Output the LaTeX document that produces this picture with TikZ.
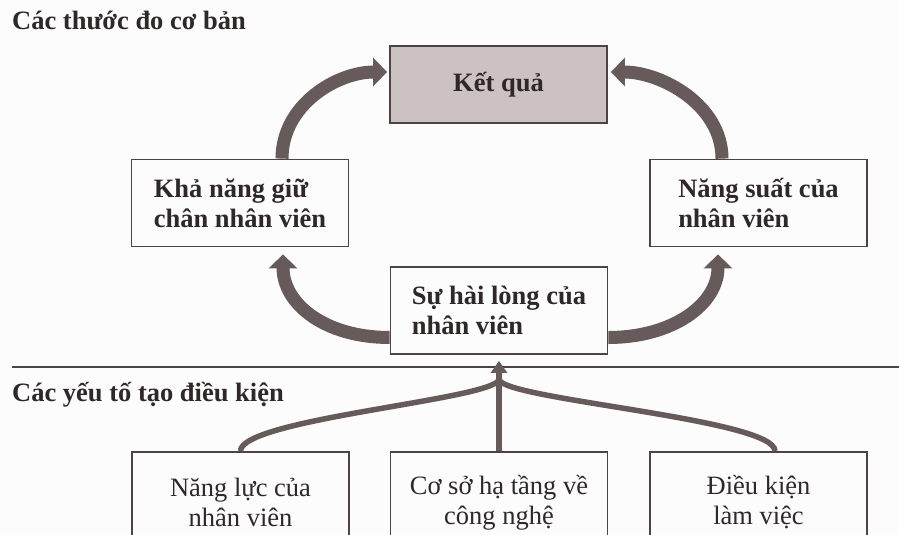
\documentclass[tikz,border=0pt]{standalone}
\usepackage{fontspec}
\setmainfont{Liberation Serif}
\usetikzlibrary{arrows.meta,calc}
\definecolor{arrowc}{HTML}{665B5A}
\definecolor{borderc}{HTML}{4A4444}
\definecolor{resfill}{HTML}{CBC2C1}
\definecolor{bgc}{HTML}{FCFCFD}
\definecolor{textc}{HTML}{2E2828}
\tikzset{
  box/.style={draw=borderc, line width=1.8pt, rectangle, minimum width=#1, inner sep=0pt, text=textc, font=\fontsize{26.5}{30}\selectfont},
  topbox/.style={box=217pt, minimum height=87pt, align=left, font=\fontsize{26.5}{30}\selectfont\bfseries},
  botbox/.style={box=217pt, minimum height=101pt, align=center},
  bigarrow/.style={draw=arrowc, line width=13pt, -{Triangle[width=28pt,length=14pt]}},
  tree/.style={draw=arrowc, line width=5.5pt},
  heading/.style={anchor=base west, inner sep=0pt, text=textc, font=\fontsize{26.5}{30}\selectfont\bfseries}
}
\begin{document}
\begin{tikzpicture}[x=1pt,y=-1pt]
\useasboundingbox (0,0) rectangle (899,535);
\clip (0,0) rectangle (899,535);
\fill[bgc] (0,0) rectangle (899,535);

\node[heading] (t1) at (12,30) {Các thước đo cơ bản};
\node[heading] (t2) at (12,401) {Các yếu tố tạo điều kiện};

\node[box=217pt, minimum height=77pt, fill=resfill, font=\fontsize{26.5}{30}\selectfont\bfseries] (kq) at (498.5,84.5) {Kết quả};
\node[topbox] (kh) at (240,203) {Khả năng giữ\\chân nhân viên};
\node[topbox] (ns) at (758.5,203) {Năng suất của\\nhân viên};
\node[topbox] (sh) at (499,310.5) {Sự hài lòng của\\nhân viên};

\node[botbox] (b1) at (240.5,502.5) {Năng lực của\\nhân viên};
\node[botbox] (b2) at (499,502.5) {Cơ sở hạ tầng về\\công nghệ};
\node[botbox] (b3) at (758.5,502.5) {Điều kiện\\làm việc};

\draw[borderc, line width=1.6pt] (12,367) -- (899,367);

% big arrows
\draw[bigarrow] ($(kh.north)+(42,0)$) .. controls +(0,-54) and +(-50,0) .. ($(kq.west)+(-2,-12.5)$);
\draw[bigarrow] ($(ns.north)+(-36.5,0)$) .. controls +(0,-54) and +(50,0) .. ($(kq.east)+(3,-12.5)$);
\draw[bigarrow] ($(sh.west)+(0,27)$) .. controls +(-64,0) and +(0,50) .. ($(kh.south)+(43,7)$);
\draw[bigarrow] ($(sh.east)+(0,27)$) .. controls +(64,0) and +(0,50) .. ($(ns.south)+(-40.5,7)$);

% tree
\coordinate (j) at ($(sh.south)+(0,25)$);
\draw[tree, -{Triangle[width=16pt,length=12pt]}] (b2.north) -- ($(sh.south)+(0,6)$);
\draw[tree] (b1.north) .. controls +(0,-32) and (490,400) .. (j);
\draw[tree] ($(b3.north)+(16.5,0)$) .. controls +(0,-32) and (508,400) .. (j);
\end{tikzpicture}
\end{document}
